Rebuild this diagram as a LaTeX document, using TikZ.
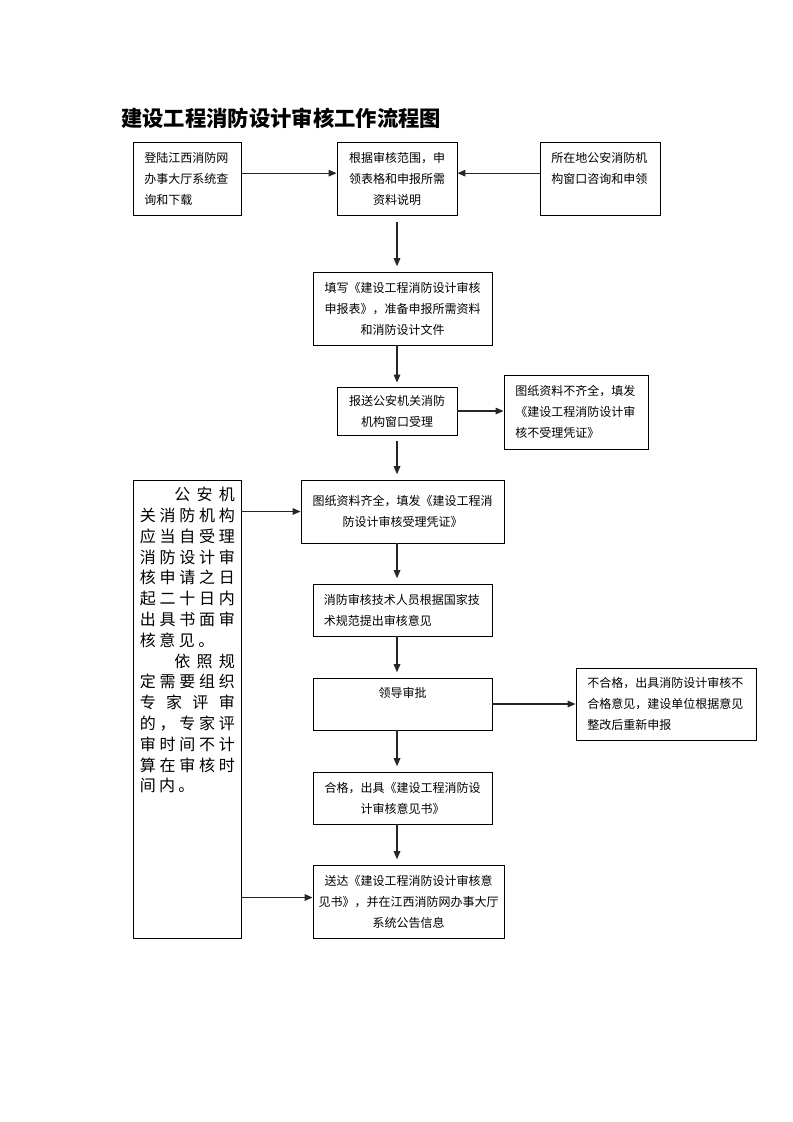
\documentclass[tikz,border=0pt]{standalone}
\usepackage{fontspec}
\setmainfont{Noto Sans CJK SC}
\usetikzlibrary{arrows.meta}
\newcommand\fl[1]{\makebox[71.25pt][s]{#1}}
\begin{document}
\begin{tikzpicture}[x=0.75pt,y=-0.75pt,
  box/.style={draw, line width=0.7pt, inner sep=0pt, font=\fontsize{9pt}{15.75pt}\selectfont},
  arr/.style={line width=0.8pt, draw=black!85, -{Triangle[length=6pt,width=5pt]}}]
\useasboundingbox[fill=white] (0,0) rectangle (793,1122);
% title
\node[anchor=west, inner sep=0pt, font=\fontsize{16pt}{16pt}\selectfont\bfseries] (T) at (121,118) {建设工程消防设计审核工作流程图};
% boxes
\node[box, minimum width=81pt, minimum height=54.75pt, text width=64pt, align=left] (A) at (187,178.5) {登陆江西消防网\\办事大厅系统查\\询和下载};
\node[box, minimum width=90pt, minimum height=54.75pt, text width=73pt, align=center] (B) at (397,178.5) {根据审核范围，申\\领表格和申报所需\\资料说明};
\node[box, minimum width=90pt, minimum height=54.75pt, text width=73pt, align=left] (C) at (600,178.5) {所在地公安消防机\\构窗口咨询和申领\\\mbox{}};
\node[box, minimum width=134.25pt, minimum height=54.75pt, text width=118pt, align=center] (D) at (402.5,308.5) {填写《建设工程消防设计审核\\申报表》，准备申报所需资料\\和消防设计文件};
\node[box, minimum width=90pt, minimum height=36pt, text width=73pt, align=center] (E) at (397,411) {报送公安机关消防\\机构窗口受理};
\node[box, minimum width=108pt, minimum height=55.5pt, text width=91pt, align=left] (F) at (576,412) {图纸资料不齐全，填发\\《建设工程消防设计审\\核不受理凭证》};
\node[box, minimum width=152.25pt, minimum height=47.25pt, text width=136pt, align=center] (G) at (402.5,511.5) {图纸资料齐全，填发《建设工程消\\防设计审核受理凭证》\\[4pt]};
\node[box, minimum width=134.25pt, minimum height=39pt, text width=118pt, align=left] (H) at (402.5,610) {消防审核技术人员根据国家技\\术规范提出审核意见};
\node[box, minimum width=134.25pt, text height=14.75pt, text depth=24.25pt] (I) at (402.5,704) {领导审批};
\node[box, minimum width=135pt, minimum height=54pt, text width=118pt, align=left] (J) at (666,704) {不合格，出具消防设计审核不\\合格意见，建设单位根据意见\\整改后重新申报};
\node[box, minimum width=134.25pt, minimum height=39pt, text width=118pt, align=center] (M) at (402.5,798) {合格，出具《建设工程消防设\\计审核意见书》};
\node[box, minimum width=143.25pt, minimum height=54.75pt, text width=136pt, align=center] (K) at (408.5,901.5) {送达《建设工程消防设计审核意\\见书》，并在江西消防网办事大厅\\系统公告信息};
\node[box, minimum width=81pt, minimum height=343.5pt] (L) at (187,709) {};
\node[anchor=north west, inner sep=0pt, text width=72pt, align=left, font=\fontsize{12pt}{15.6pt}\selectfont] (Lt) at (139.5,487) {%
\fl{\hspace{26pt}公\hfill 安\hfill 机}\\
\fl{关\hfill 消\hfill 防\hfill 机\hfill 构}\\
\fl{应\hfill 当\hfill 自\hfill 受\hfill 理}\\
\fl{消\hfill 防\hfill 设\hfill 计\hfill 审}\\
\fl{核\hfill 申\hfill 请\hfill 之\hfill 日}\\
\fl{起\hfill 二\hfill 十\hfill 日\hfill 内}\\
\fl{出\hfill 具\hfill 书\hfill 面\hfill 审}\\
\makebox[56pt][s]{核\hfill 意\hfill 见\hfill 。}\\
\fl{\hspace{26pt}依\hfill 照\hfill 规}\\
\fl{定\hfill 需\hfill 要\hfill 组\hfill 织}\\
\fl{专\hfill 家\hfill 评\hfill 审}\\
\fl{的\hfill ，\hfill 专\hfill 家\hfill 评}\\
\fl{审\hfill 时\hfill 间\hfill 不\hfill 计}\\
\fl{算\hfill 在\hfill 审\hfill 核\hfill 时}\\
\makebox[41pt][s]{间\hfill 内\hfill 。}};
% connectors
\draw[arr] ([yshift=4pt]A.east) -- ([yshift=4pt]B.west);
\draw[arr] ([yshift=4pt]C.west) -- ([yshift=4pt]B.east);
\draw[arr, shorten <=5pt, shorten >=4pt] (B.south) -- (B.south |- D.north);
\draw[arr, shorten >=3pt] (E.north |- D.south) -- (E.north);
\draw[arr, shorten <=4pt, shorten >=4pt] (E.south) -- (E.south |- G.north);
\draw[arr] (E.east) -- (E.east -| F.west);
\draw[arr] (G.west -| L.east) -- (G.west);
\draw[arr, shorten >=4pt] (G.south -| E.south) -- (E.south |- H.north);
\draw[arr, shorten >=4pt] (H.south -| E.south) -- (E.south |- I.north);
\draw[arr] (I.east) -- (I.east -| J.west);
\draw[arr, shorten >=4pt] (I.south -| E.south) -- (E.south |- M.north);
\draw[arr, shorten >=4pt] (M.south -| E.south) -- (E.south |- K.north);
\draw[arr] ([yshift=3pt]K.west -| L.east) -- ([yshift=3pt]K.west);
\end{tikzpicture}
\end{document}
